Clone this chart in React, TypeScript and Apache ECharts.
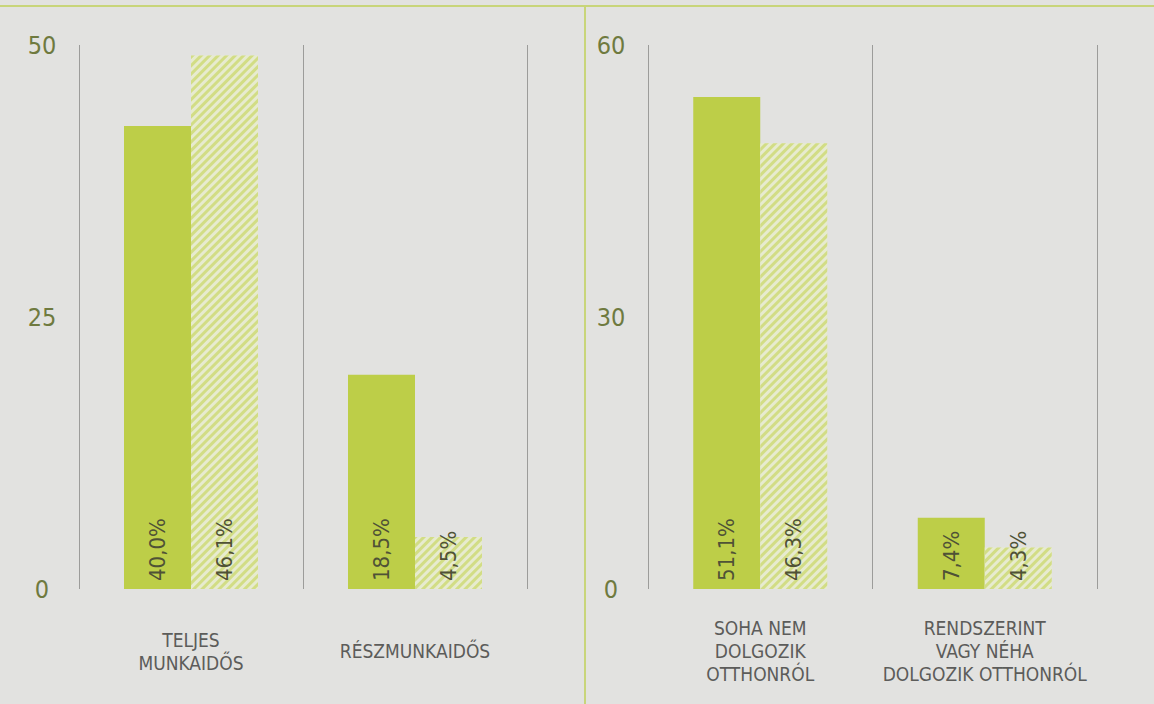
import React, { useEffect, useRef } from "react";
import * as echarts from "echarts";

// Left panel: working time
const leftCategories = ["TELJES\nMUNKAIDŐS", "RÉSZMUNKAIDŐS"];
const leftSolid = [40.0, 18.5];
const leftHatched = [46.1, 4.5];
const leftSolidLabels = ["40,0%", "18,5%"];
const leftHatchedLabels = ["46,1%", "4,5%"];
const leftTickLabels = ["0", "25", "50"];
const leftAxisMax = 47;

// Right panel: working from home
const rightCategories = ["SOHA NEM\nDOLGOZIK\nOTTHONRÓL", "RENDSZERINT\nVAGY NÉHA\nDOLGOZIK OTTHONRÓL"];
const rightSolid = [51.1, 7.4];
const rightHatched = [46.3, 4.3];
const rightSolidLabels = ["51,1%", "7,4%"];
const rightHatchedLabels = ["46,3%", "4,3%"];
const rightTickLabels = ["0", "30", "60"];
const rightAxisMax = 56.5;

const FONT = "'Liberation Sans Narrow', 'DejaVu Sans Condensed', 'Roboto', sans-serif";
const SOLID = "#bdce48";
const HATCH_STRIPE = "#d2dd85";
const HATCH_BG = "#e7ebcf";

export default function App() {
  const ref = useRef<HTMLDivElement>(null);

  useEffect(() => {
    document.body.style.margin = "0";
    const chart = echarts.init(ref.current!, null, { renderer: "svg" });

    const makeX = (gridIndex: number, cats: string[]) => ({
      type: "category",
      gridIndex,
      data: cats,
      boundaryGap: true,
      axisLine: { show: false },
      axisTick: { show: false },
      splitLine: { show: true, interval: 0, lineStyle: { color: "#9c9c9a", width: 1 } },
      axisLabel: {
        interval: 0,
        margin: 62,
        verticalAlign: "middle",
        color: "#5c5c5a",
        fontFamily: FONT,
        fontSize: 19,
        lineHeight: 23,
        align: "center",
      },
    });

    const makeY = (gridIndex: number, max: number, ticks: string[]) => ({
      type: "value",
      gridIndex,
      min: 0,
      max,
      interval: max / 2,
      axisLine: { show: false },
      axisTick: { show: false },
      splitLine: { show: false },
      axisLabel: {
        margin: 37,
        align: "center",
        color: "#6f7a3f",
        fontFamily: FONT,
        fontSize: 25,
        formatter: (_v: number, i: number) => ticks[i] ?? "",
      },
    });

    const labelCfg = (labels: string[]) => ({
      show: true,
      position: "insideBottom",
      rotate: 90,
      align: "left",
      verticalAlign: "middle",
      distance: 8,
      color: "#4f5236",
      fontFamily: FONT,
      fontSize: 22,
      formatter: (p: any) => labels[p.dataIndex],
    });

    const solidSeries = (xi: number, data: number[], labels: string[]) => ({
      type: "bar",
      xAxisIndex: xi,
      yAxisIndex: xi,
      data,
      barWidth: 67,
      barGap: "0%",
      itemStyle: { color: SOLID },
      label: labelCfg(labels),
    });

    const hatchSeries = (xi: number, data: number[], labels: string[]) => ({
      type: "bar",
      xAxisIndex: xi,
      yAxisIndex: xi,
      data,
      barWidth: 67,
      barGap: "0%",
      itemStyle: {
        color: HATCH_BG,
        decal: {
          symbol: "rect",
          symbolSize: 1,
          color: HATCH_STRIPE,
          backgroundColor: HATCH_BG,
          dashArrayX: [1, 0],
          dashArrayY: [3, 3],
          rotation: -Math.PI / 4,
        },
      },
      label: labelCfg(labels),
    });

    chart.setOption({
      animation: false,
      backgroundColor: "#e2e2e0",
      grid: [
        { left: 79, width: 448, top: 45, height: 544 },
        { left: 648, width: 449, top: 45, height: 544 },
      ],
      xAxis: [makeX(0, leftCategories), makeX(1, rightCategories)],
      yAxis: [makeY(0, leftAxisMax, leftTickLabels), makeY(1, rightAxisMax, rightTickLabels)],
      series: [
        solidSeries(0, leftSolid, leftSolidLabels),
        hatchSeries(0, leftHatched, leftHatchedLabels),
        solidSeries(1, rightSolid, rightSolidLabels),
        hatchSeries(1, rightHatched, rightHatchedLabels),
      ],
      graphic: [
        {
          type: "line",
          shape: { x1: 0, y1: 6, x2: 1154, y2: 6 },
          style: { stroke: "#c8d57a", lineWidth: 2 },
          silent: true,
        },
        {
          type: "line",
          shape: { x1: 585, y1: 6, x2: 585, y2: 704 },
          style: { stroke: "#c8d57a", lineWidth: 2 },
          silent: true,
        },
      ],
    });

    return () => chart.dispose();
  }, []);

  return <div ref={ref} style={{ width: 1154, height: 704 }} />;
}
